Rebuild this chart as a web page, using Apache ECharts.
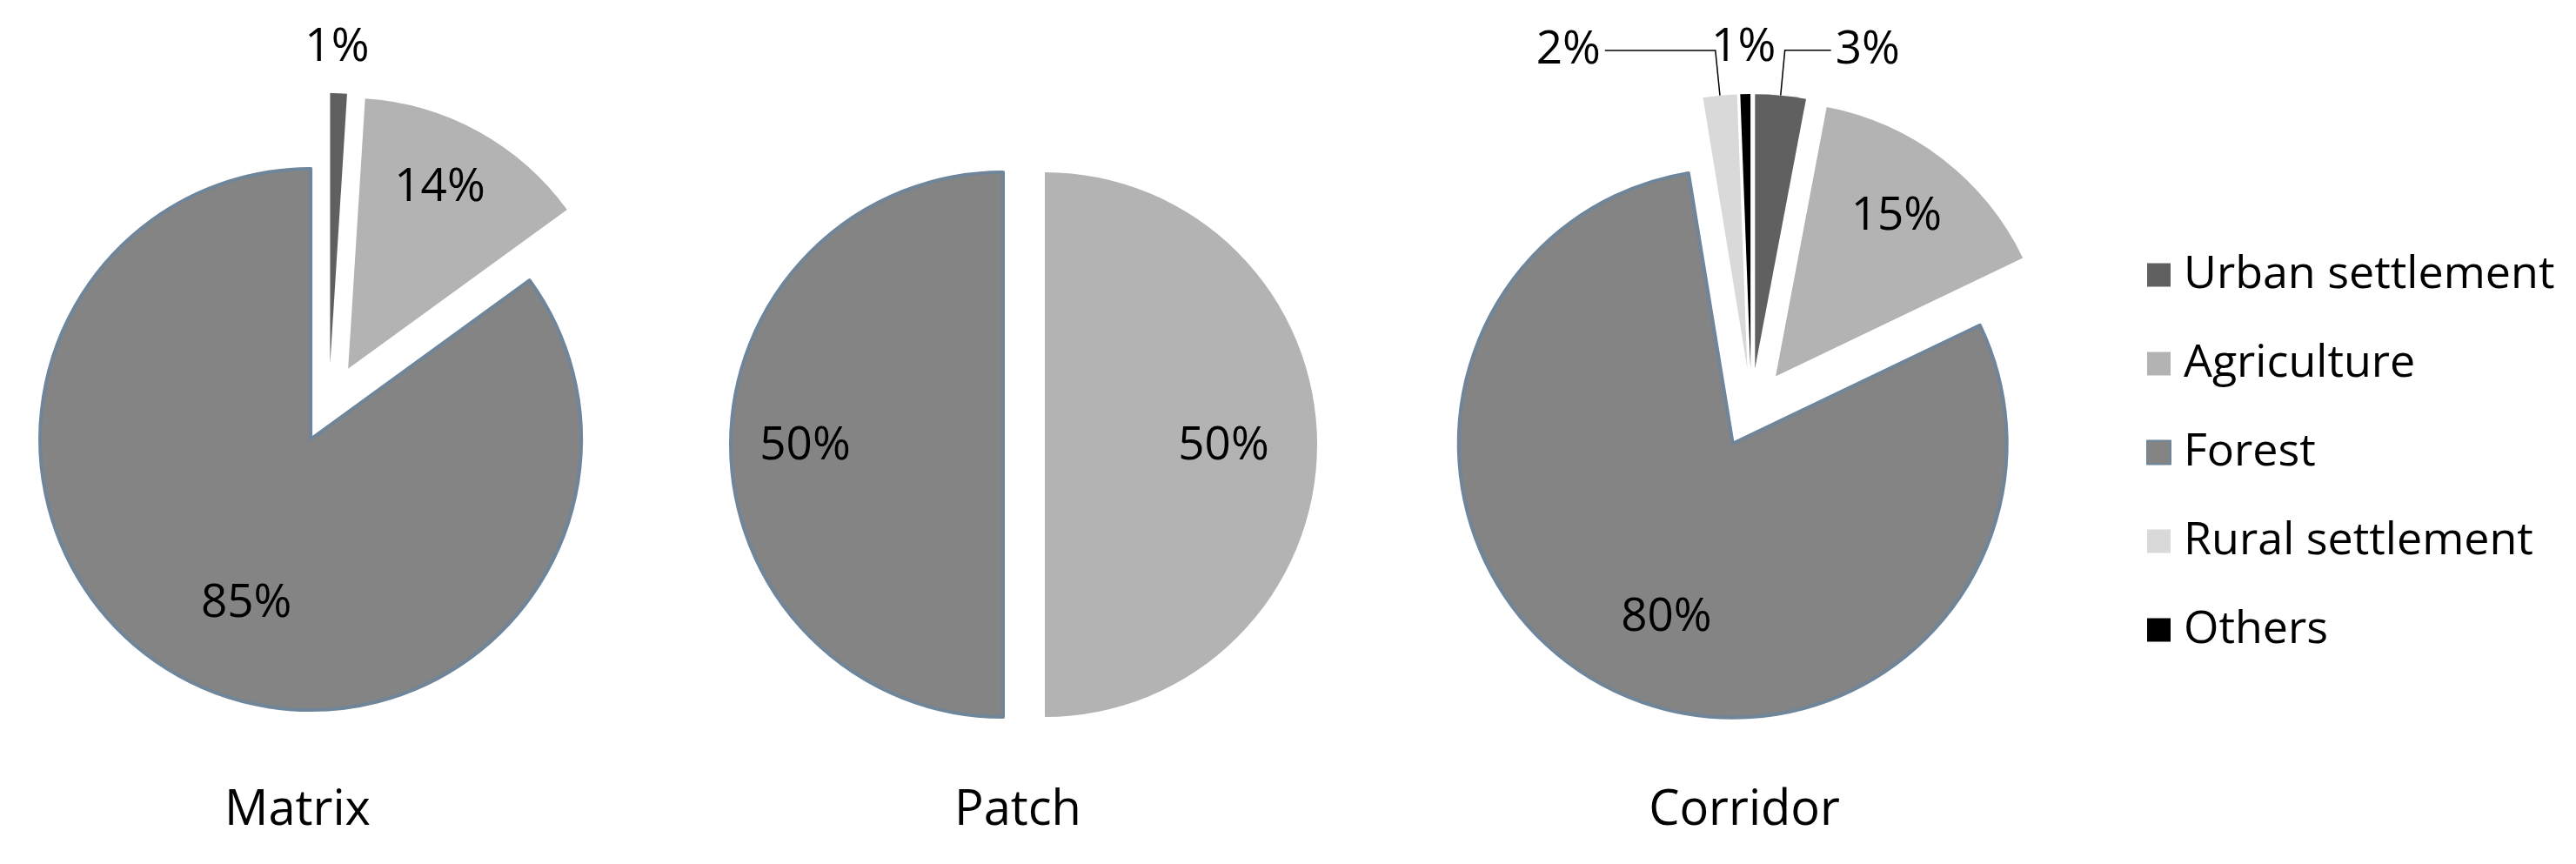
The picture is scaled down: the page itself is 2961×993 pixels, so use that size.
<!DOCTYPE html>
<html><head><meta charset="utf-8">
<script src="https://cdn.jsdelivr.net/npm/echarts@6/dist/echarts.min.js"></script>
<style>html,body{margin:0;padding:0;background:#fff}#chart{width:2961px;height:993px}</style>
</head><body><div id="chart"></div>
<script>
// ---------- data ----------
const categories = ['Urban settlement', 'Agriculture', 'Forest', 'Rural settlement', 'Others'];
const pieNames = ['Matrix', 'Patch', 'Corridor'];
const matrixValues = [1, 14, 85, 0, 0];
const patchValues = [0, 50, 50, 0, 0];
const corridorValues = [3, 15, 80, 2, 0.6];

// ---------- styles / layout ----------
const FONT = 'Open Sans';
const colors = ['#606060', '#b3b3b3', '#848484', '#d9d9d9', '#000000'];
const forestBorder = '#6f8599';
const layouts = [
  { center: [378, 464], radius: 311, offset: 46, title: [337, 899] },
  { center: [1177, 511], radius: 313, offset: 24, title: [1165, 899] },
  { center: [2013, 469], radius: 315, offset: 46, title: [2000, 899] }
];
// label nudges (dx, dy) relative to the library's default inside label position
const labelShift = {
  Matrix: { 'Urban settlement': [3, -205], 'Agriculture': [29, -69], 'Forest': [-2, 48] },
  Patch: { 'Agriculture': [46, 2], 'Forest': [-68, 2] },
  Corridor: { 'Agriculture': [41, -56], 'Forest': [-2, 58], 'Others': [-5, -208] }
};
// labels drawn outside with a leader line: [first segment, second segment]
const outsideLines = {
  Corridor: { 'Urban settlement': [52, 53], 'Rural settlement': [52, 127] }
};

function buildSeries(i, values) {
  const name = pieNames[i];
  const L = layouts[i];
  const data = [];
  values.forEach(function (v, k) {
    if (v <= 0) return;
    const cat = categories[k];
    const item = {
      name: cat, value: v, selected: true,
      itemStyle: cat === 'Forest'
        ? { color: colors[k], borderColor: forestBorder, borderWidth: 4 }
        : { color: colors[k], borderWidth: 0 }
    };
    const ol = outsideLines[name] && outsideLines[name][cat];
    if (ol) {
      item.label = { position: 'outside', distanceToLabelLine: 5 };
      item.labelLine = { show: true, length: ol[0], length2: ol[1], lineStyle: { color: '#000', width: 1.5 } };
    }
    data.push(item);
  });
  return {
    type: 'pie', name: name,
    center: L.center, radius: L.radius,
    selectedMode: 'multiple', selectedOffset: L.offset,
    startAngle: 90, clockwise: true,
    avoidLabelOverlap: false,
    animation: false,
    emphasis: { disabled: true, scale: false },
    label: {
      show: true, position: 'inside', color: '#000',
      fontFamily: FONT, fontSize: 53,
      formatter: function (p) { return Math.round(p.value) + '%'; }
    },
    labelLine: { show: false },
    labelLayout: function (p) {
      const d = data[p.dataIndex];
      const s = d && labelShift[name] && labelShift[name][d.name];
      return s ? { dx: s[0], dy: s[1] } : {};
    },
    data: data
  };
}

const chart = echarts.init(document.getElementById('chart'));
chart.setOption({
  backgroundColor: '#ffffff',
  animation: false,
  title: pieNames.map(function (n, i) {
    return {
      text: n, left: layouts[i].title[0], top: layouts[i].title[1], textAlign: 'center',
      textStyle: { fontFamily: FONT, fontSize: 56, fontWeight: 'normal', color: '#000' }
    };
  }),
  legend: {
    orient: 'vertical', left: 2462, top: 285, itemGap: 50,
    itemWidth: 27, itemHeight: 27, icon: 'rect', selectedMode: false,
    data: categories,
    textStyle: { fontFamily: FONT, fontSize: 52, color: '#000', padding: [0, 0, 0, 10] }
  },
  series: [
    buildSeries(0, matrixValues),
    buildSeries(1, patchValues),
    buildSeries(2, corridorValues)
  ]
});
</script></body></html>
